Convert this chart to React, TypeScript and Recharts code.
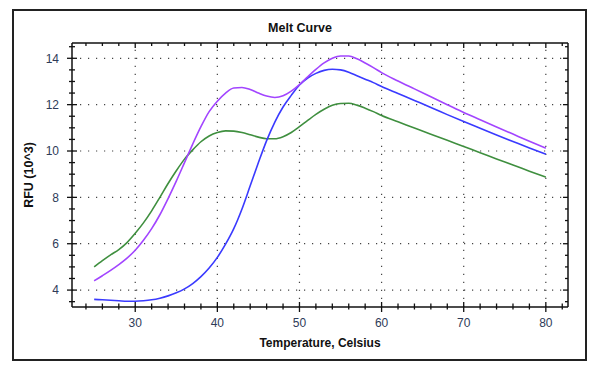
import React from 'react';
import { LineChart, Line, XAxis, YAxis, ReferenceLine } from 'recharts';

const temperatures = [25, 26, 27, 28, 29, 30, 31, 32, 33, 34, 35, 36, 37, 38, 39, 40, 41, 42, 43, 44, 45, 46, 47, 48, 49, 50, 51, 52, 53, 54, 55, 56, 57, 58, 59, 60, 62, 64, 66, 68, 70, 72, 74, 76, 78, 80];

const blueRFU = [3.6, 3.58, 3.56, 3.54, 3.52, 3.52, 3.54, 3.58, 3.65, 3.75, 3.88, 4.05, 4.28, 4.58, 4.95, 5.41, 5.98, 6.65, 7.5, 8.5, 9.5, 10.45, 11.25, 11.9, 12.4, 12.85, 13.15, 13.35, 13.48, 13.53, 13.5, 13.4, 13.25, 13.1, 12.95, 12.78, 12.48, 12.18, 11.88, 11.57, 11.27, 10.98, 10.69, 10.41, 10.13, 9.86];

const purpleRFU = [4.4, 4.62, 4.85, 5.1, 5.38, 5.72, 6.15, 6.65, 7.25, 7.95, 8.7, 9.5, 10.3, 11.05, 11.7, 12.15, 12.5, 12.72, 12.74, 12.65, 12.5, 12.37, 12.31, 12.38, 12.58, 12.86, 13.2, 13.52, 13.8, 14.0, 14.1, 14.1, 13.98, 13.8, 13.6, 13.38, 13.02, 12.68, 12.34, 12.0, 11.66, 11.35, 11.04, 10.73, 10.42, 10.12];

const greenRFU = [5.0, 5.27, 5.52, 5.75, 6.05, 6.45, 6.9, 7.42, 8.0, 8.6, 9.15, 9.65, 10.05, 10.4, 10.65, 10.8, 10.87, 10.86, 10.8, 10.7, 10.6, 10.53, 10.53, 10.62, 10.8, 11.05, 11.32, 11.58, 11.8, 11.97, 12.05, 12.06, 11.98, 11.85, 11.7, 11.53, 11.26, 10.99, 10.72, 10.46, 10.19, 9.93, 9.66, 9.4, 9.13, 8.87];

const xMajorTicks = [30, 40, 50, 60, 70, 80];
const xMinorTicks = [24, 26, 28, 32, 34, 36, 38, 42, 44, 46, 48, 52, 54, 56, 58, 62, 64, 66, 68, 72, 74, 76, 78, 82];
const yMajorTicks = [4, 6, 8, 10, 12, 14];
const yMinorTicks = [3.5, 4.5, 5, 5.5, 6.5, 7, 7.5, 8.5, 9, 9.5, 10.5, 11, 11.5, 12.5, 13, 13.5, 14.5];

const xDomain = [22.3, 82.7];
const yDomain = [3.27, 14.66];

const allX = [...xMajorTicks, ...xMinorTicks].sort((a, b) => a - b);
const allY = [...yMajorTicks, ...yMinorTicks].sort((a, b) => a - b);

const data = temperatures.map((t, i) => ({
  t,
  blue: blueRFU[i],
  purple: purpleRFU[i],
  green: greenRFU[i],
}));

const FONT = '"Liberation Sans", Arial, sans-serif';
const TICK_COLOR = '#2e3b58';
const AXIS_COLOR = '#111';

const BottomTick = (props: any) => {
  const { x, y, payload } = props;
  const major = xMajorTicks.includes(payload.value);
  return (
    <g>
      <line x1={x} x2={x} y1={y - (major ? 5 : 3.5)} y2={y + (major ? 5 : 2.5)} stroke={AXIS_COLOR} strokeWidth={1.3} />
      {major && (
        <text x={x} y={y + 20} textAnchor="middle" fill={TICK_COLOR} fontSize={12} fontFamily={FONT}>
          {payload.value}
        </text>
      )}
    </g>
  );
};

const TopTick = (props: any) => {
  const { x, y, payload } = props;
  const major = xMajorTicks.includes(payload.value);
  return <line x1={x} x2={x} y1={y} y2={y + (major ? 5 : 3)} stroke={AXIS_COLOR} strokeWidth={1.3} />;
};

const LeftTick = (props: any) => {
  const { x, y, payload } = props;
  const major = yMajorTicks.includes(payload.value);
  return (
    <g>
      <line x1={x - (major ? 5 : 3)} x2={x + (major ? 5 : 3)} y1={y} y2={y} stroke={AXIS_COLOR} strokeWidth={1.3} />
      {major && (
        <text x={x - 13} y={y} dy="0.36em" textAnchor="end" fill={TICK_COLOR} fontSize={12} fontFamily={FONT}>
          {payload.value}
        </text>
      )}
    </g>
  );
};

const RightTick = (props: any) => {
  const { x, y, payload } = props;
  const major = yMajorTicks.includes(payload.value);
  return <line x1={x - (major ? 5 : 3)} x2={x} y1={y} y2={y} stroke={AXIS_COLOR} strokeWidth={1.3} />;
};

export default function App() {
  return (
    <div style={{ position: 'absolute', left: 0, top: 0, width: 600, height: 369, background: '#fff' }}>
      <div
        style={{
          position: 'absolute',
          left: 12,
          top: 9,
          width: 575,
          height: 352,
          border: '2px solid #222',
          boxSizing: 'border-box',
        }}
      />
      <div style={{ position: 'absolute', left: 0, top: 0 }}>
        <LineChart width={600} height={369} data={data} margin={{ top: 13, right: 2, bottom: 32, left: 12 }}>
          <XAxis
            dataKey="t"
            type="number"
            domain={xDomain}
            ticks={allX}
            interval={0}
            allowDataOverflow
            height={30}
            tickSize={0}
            tickMargin={0}
            tickLine={false}
            tick={BottomTick}
            axisLine={{ stroke: AXIS_COLOR, strokeWidth: 1.5 }}
          />
          <XAxis
            xAxisId="top"
            orientation="top"
            dataKey="t"
            type="number"
            domain={xDomain}
            ticks={allX}
            interval={0}
            allowDataOverflow
            height={30}
            tickSize={0}
            tickMargin={0}
            tickLine={false}
            tick={TopTick}
            axisLine={{ stroke: AXIS_COLOR, strokeWidth: 1.5 }}
          />
          <YAxis
            type="number"
            domain={yDomain}
            ticks={allY}
            interval={0}
            allowDataOverflow
            width={60}
            tickSize={0}
            tickMargin={0}
            tickLine={false}
            tick={LeftTick}
            axisLine={{ stroke: AXIS_COLOR, strokeWidth: 1.5 }}
          />
          <YAxis
            yAxisId="right"
            orientation="right"
            type="number"
            domain={yDomain}
            ticks={allY}
            interval={0}
            allowDataOverflow
            width={30}
            tickSize={0}
            tickMargin={0}
            tickLine={false}
            tick={RightTick}
            axisLine={{ stroke: AXIS_COLOR, strokeWidth: 1.5 }}
          />
          {xMajorTicks.map((v) => (
            <ReferenceLine key={'gx' + v} x={v} stroke="#444" strokeWidth={1.2} strokeDasharray="1.2 6.8" />
          ))}
          {yMajorTicks.map((v) => (
            <ReferenceLine key={'gy' + v} y={v} stroke="#444" strokeWidth={1.2} strokeDasharray="1.2 6.8" />
          ))}
          <Line type="monotone" dataKey="green" stroke="#3f8f3f" strokeWidth={1.6} dot={false} isAnimationActive={false} />
          <Line type="monotone" dataKey="blue" stroke="#3a3aff" strokeWidth={1.6} dot={false} isAnimationActive={false} />
          <Line type="monotone" dataKey="purple" stroke="#a245ff" strokeWidth={1.6} dot={false} isAnimationActive={false} />
        </LineChart>
      </div>
      <svg width={600} height={369} style={{ position: 'absolute', left: 0, top: 0, pointerEvents: 'none' }}>
        <text x={300} y={32} textAnchor="middle" fontFamily={FONT} fontWeight="bold" fontSize={12.5} fill="#111">
          Melt Curve
        </text>
        <text x={320} y={347} textAnchor="middle" fontFamily={FONT} fontWeight="bold" fontSize={12} fill="#111">
          Temperature, Celsius
        </text>
        <text
          x={0}
          y={0}
          transform="translate(32.5,175) rotate(-90)"
          textAnchor="middle"
          fontFamily={FONT}
          fontWeight="bold"
          fontSize={12.5}
          fill="#111"
        >
          RFU (10^3)
        </text>
      </svg>
    </div>
  );
}
